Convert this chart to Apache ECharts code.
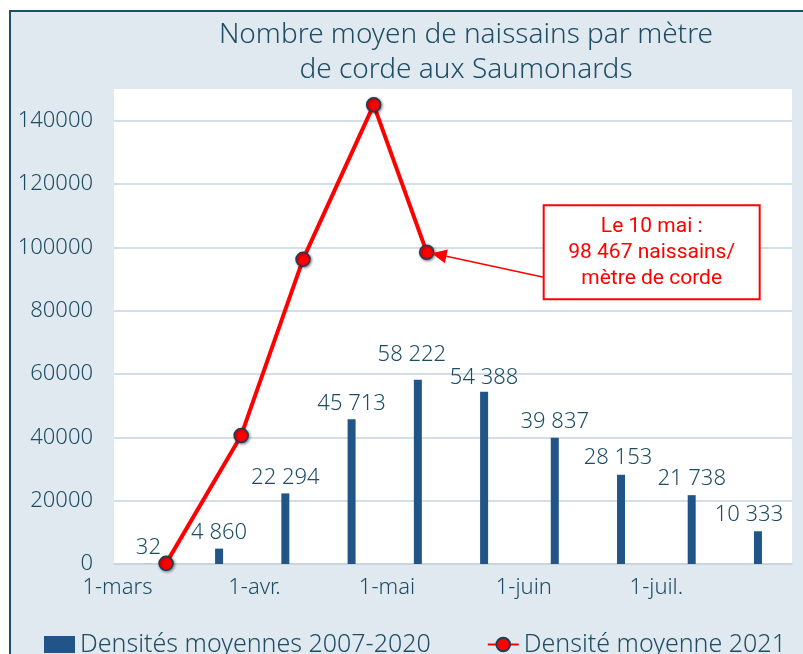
<!DOCTYPE html>
<html>
<head>
<meta charset="utf-8">
<script src="https://cdn.jsdelivr.net/npm/echarts@6/dist/echarts.min.js"></script>
<style>html,body{margin:0;padding:0;background:#fff;}#c{width:803px;height:654px;}</style>
</head>
<body>
<div id="c"></div>
<script>
const titleLines = ['Nombre moyen de naissains par mètre', 'de corde aux Saumonards'];
const barName = 'Densités moyennes 2007-2020';
const lineName = 'Densité moyenne 2021';
const barDates = ['2021-03-08','2021-03-24','2021-04-08','2021-04-23','2021-05-08','2021-05-23','2021-06-08','2021-06-23','2021-07-09','2021-07-24'];
const barValues = [32, 4860, 22294, 45713, 58222, 54388, 39837, 28153, 21738, 10333];
const lineDates = ['2021-03-12','2021-03-29','2021-04-12','2021-04-28','2021-05-10'];
const lineValues = [200, 40600, 96200, 145000, 98467];
const monthNames = ['janv.','févr.','mars','avr.','mai','juin','juil.','août','sept.','oct.','nov.','déc.'];
const yTicks = [0, 20000, 40000, 60000, 80000, 100000, 120000, 140000];
const annotationLines = ['Le 10 mai :', '98 467 naissains/', 'mètre de corde'];
const xRange = ['2021-02-28T05:00:00', '2021-07-31T17:00:00'];

// manual label nudges (styling, by bar index), as in the original
const labelNudge = {4: [-6, -9], 5: [0, 2], 7: [-3, -1], 9: [-9, -1]};

const FONT = 'Noto Sans';
const FW = 300;
const TXT = '#1d4d64';
const ts = s => new Date(s.length === 10 ? s + 'T00:00:00' : s).getTime();
const fmtSpace = v => String(v).replace(/\B(?=(\d{3})+(?!\d))/g, ' ');
const xMin = ts(xRange[0]), xMax = ts(xRange[1]);

const chart = echarts.init(document.getElementById('c'), null, {renderer: 'canvas'});
const gridColors = yTicks.map(() => '#c3d5e0').concat(['rgba(0,0,0,0)']);

chart.setOption({
  animation: false,
  backgroundColor: '#ffffff',
  textStyle: {fontFamily: FONT, fontWeight: FW},
  title: {
    text: titleLines.join('\n'),
    left: 461, top: 13, textAlign: 'center',
    textStyle: {fontFamily: FONT, fontSize: 28, fontWeight: FW, color: TXT, lineHeight: 35}
  },
  legend: {
    left: 44, top: 632, width: 800, padding: 0,
    itemWidth: 31, itemHeight: 17, itemGap: 56,
    textStyle: {fontFamily: FONT, fontWeight: FW, fontSize: 25, color: TXT},
    data: [{name: barName, icon: 'rect'}, {name: lineName}]
  },
  grid: {left: 114, right: 11, top: 89, bottom: 90, show: true, backgroundColor: '#ffffff', borderWidth: 0},
  xAxis: [
    {
      type: 'value', min: xMin, max: xMax, position: 'bottom',
      axisLine: {show: false}, axisTick: {show: false}, axisLabel: {show: false}, splitLine: {show: false}
    },
    {
      type: 'time', min: xMin, max: xMax, position: 'bottom', offset: 0,
      axisLine: {show: true, lineStyle: {color: '#c9d2d9', width: 1.5}},
      axisTick: {show: false},
      splitLine: {show: false},
      axisLabel: {
        show: true, fontFamily: FONT, fontWeight: FW, fontSize: 22, color: TXT, margin: 13,
        showMinLabel: false, showMaxLabel: false, hideOverlap: false,
        formatter: function (v) {
          const d = new Date(v);
          if (d.getDate() === 1 && d.getHours() === 0) return '1-' + monthNames[d.getMonth()];
          return '';
        }
      }
    }
  ],
  yAxis: {
    type: 'value', min: 0, max: 150000, interval: 20000,
    axisLine: {show: false}, axisTick: {show: false},
    splitLine: {show: true, lineStyle: {color: gridColors, width: 1.5}},
    axisLabel: {fontFamily: FONT, fontWeight: FW, fontSize: 22, color: TXT, margin: 21, showMaxLabel: false,
      formatter: v => String(v)}
  },
  series: [
    {
      name: barName, type: 'bar', xAxisIndex: 0,
      data: barDates.map((d, i) => {
        const item = {value: [ts(d), barValues[i]]};
        if (labelNudge[i]) item.label = {offset: labelNudge[i]};
        return item;
      }),
      barWidth: 8,
      itemStyle: {color: '#215487'},
      label: {show: true, position: 'top', distance: 5, fontFamily: FONT, fontWeight: FW, fontSize: 22, color: TXT,
        formatter: p => fmtSpace(p.value[1])},
      z: 2
    },
    {
      name: lineName, type: 'line', xAxisIndex: 0,
      data: lineDates.map((d, i) => [ts(d), lineValues[i]]),
      symbol: 'circle', symbolSize: 14,
      lineStyle: {color: '#ff0000', width: 4},
      itemStyle: {color: '#ff0000', borderColor: '#1f3d57', borderWidth: 1.5,
        shadowBlur: 3, shadowColor: 'rgba(0,0,0,0.45)', shadowOffsetX: 1, shadowOffsetY: 1},
      z: 5
    }
  ]
});

// Annotation anchored to the 10 May point
const last = lineDates.length - 1;
const p = chart.convertToPixel({seriesIndex: 1}, [ts(lineDates[last]), lineValues[last]]);
const boxX = p[0] + 117, boxY = p[1] - 47, boxW = 216, boxH = 94;
const tip = [p[0] + 5, p[1] + 1];
const start = [boxX, p[1] + 25];
const dx = start[0] - tip[0], dy = start[1] - tip[1];
const len = Math.sqrt(dx * dx + dy * dy);
const ux = dx / len, uy = dy / len;
const hl = 15, hw = 7;
const base = [tip[0] + ux * hl, tip[1] + uy * hl];
const head = [tip, [base[0] - uy * hw, base[1] + ux * hw], [base[0] + uy * hw, base[1] - ux * hw]];

chart.setOption({
  graphic: [
    {type: 'rect', z: -100, silent: true, shape: {x: 10, y: 11, width: 820, height: 700},
      style: {fill: '#e1e9f0', stroke: '#1f4e68', lineWidth: 2}},
    {type: 'line', z: 100, silent: true, shape: {x1: base[0], y1: base[1], x2: start[0], y2: start[1]},
      style: {stroke: '#ff0000', lineWidth: 1.5}},
    {type: 'polygon', z: 100, silent: true, shape: {points: head}, style: {fill: '#ff0000'}},
    {type: 'rect', z: 100, silent: true, shape: {x: boxX, y: boxY, width: boxW, height: boxH},
      style: {fill: '#ffffff', stroke: '#ff0000', lineWidth: 2}},
    {type: 'text', z: 101, silent: true,
      style: {x: boxX + boxW / 2, y: boxY + boxH / 2 + 1, text: annotationLines.join('\n'),
        align: 'center', verticalAlign: 'middle', fontFamily: 'Roboto', fontSize: 21, lineHeight: 26, fill: '#ff0000'}}
  ]
});
</script>
</body>
</html>
